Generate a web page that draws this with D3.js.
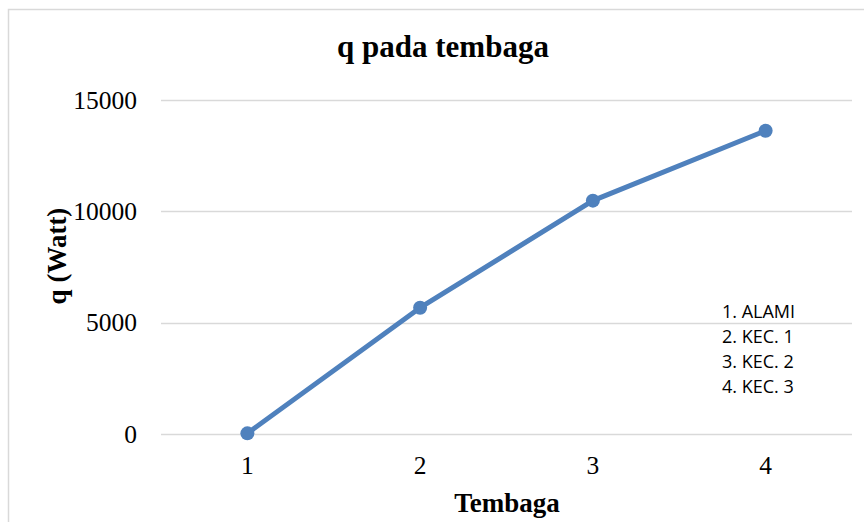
<!DOCTYPE html>
<html>
<head>
<meta charset="utf-8">
<script src="https://cdn.jsdelivr.net/npm/d3@7"></script>
<style>
  body { margin: 0; background: #fff; }
</style>
</head>
<body>
<div id="chart"></div>
<script>
/* CONSTANTS AND GLOBALS */
const width = 864,
  height = 522,
  margin = { top: 100, bottom: 88, left: 161, right: 12 };

// data
const categories = ["1", "2", "3", "4"];
const qValues = [30, 5670, 10480, 13620];
const yTicks = [0, 5000, 10000, 15000];
const legendLines = ["1. ALAMI", "2. KEC. 1", "3. KEC. 2", "4. KEC. 3"];

const data = categories.map((c, i) => ({ cat: c, q: qValues[i] }));

const serif = "'Liberation Serif', 'Times New Roman', serif";

const svg = d3.select("#chart")
  .append("svg")
  .attr("width", width)
  .attr("height", height);

// chart frame (only the left and top edges show)
svg.append("rect")
  .attr("x", 8.5)
  .attr("y", 9.5)
  .attr("width", 900)
  .attr("height", 600)
  .attr("fill", "white")
  .attr("stroke", "#d9d9d9")
  .attr("stroke-width", 1.5);

// + SCALES
const xScale = d3.scaleBand()
  .domain(categories)
  .range([margin.left, width - margin.right]);

const yScale = d3.scaleLinear()
  .domain([0, 15000])
  .range([height - margin.bottom, margin.top]);

// gridlines
svg.append("g")
  .selectAll("line")
  .data(yTicks)
  .join("line")
  .attr("x1", margin.left)
  .attr("x2", width - margin.right)
  .attr("y1", d => Math.round(yScale(d)) + 0.5)
  .attr("y2", d => Math.round(yScale(d)) + 0.5)
  .attr("stroke", "#d9d9d9")
  .attr("stroke-width", 1.5);

// + AXES
const yAxis = d3.axisLeft(yScale)
  .tickValues(yTicks)
  .tickFormat(d3.format("d"))
  .tickSize(0)
  .tickPadding(24);

const yAxisGroup = svg.append("g")
  .attr("transform", `translate(${margin.left}, 0)`)
  .call(yAxis);
yAxisGroup.select(".domain").remove();
yAxisGroup.selectAll("text")
  .attr("font-family", serif)
  .attr("font-size", 25.5)
  .attr("fill", "#000");

const xAxis = d3.axisBottom(xScale)
  .tickSize(0)
  .tickPadding(22);

const xAxisGroup = svg.append("g")
  .attr("transform", `translate(0, ${height - margin.bottom})`)
  .call(xAxis);
xAxisGroup.select(".domain").remove();
xAxisGroup.selectAll("text")
  .attr("font-family", serif)
  .attr("font-size", 25.5)
  .attr("fill", "#000");

// axis titles
svg.append("text")
  .attr("x", 507)
  .attr("y", 512)
  .attr("text-anchor", "middle")
  .attr("font-family", serif)
  .attr("font-weight", "bold")
  .attr("font-size", 27)
  .text("Tembaga");

svg.append("text")
  .attr("transform", `translate(${66}, ${256}) rotate(-90)`)
  .attr("text-anchor", "middle")
  .attr("font-family", serif)
  .attr("font-weight", "bold")
  .attr("font-size", 27)
  .text("q (Watt)");

// title
svg.append("text")
  .attr("x", 443)
  .attr("y", 57)
  .attr("text-anchor", "middle")
  .attr("font-family", serif)
  .attr("font-weight", "bold")
  .attr("font-size", 31)
  .text("q pada tembaga");

// + LINE
const cx = d => xScale(d.cat) + xScale.bandwidth() / 2;
const lineGen = d3.line()
  .x(cx)
  .y(d => yScale(d.q));

svg.append("path")
  .datum(data)
  .attr("fill", "none")
  .attr("stroke", "#4f81bd")
  .attr("stroke-width", 5)
  .attr("stroke-linejoin", "round")
  .attr("d", lineGen);

svg.selectAll(".dot")
  .data(data)
  .join("circle")
  .attr("class", "dot")
  .attr("cx", cx)
  .attr("cy", d => yScale(d.q))
  .attr("r", 7)
  .attr("fill", "#4f81bd");

// note text explaining the categories
svg.append("g")
  .selectAll("text")
  .data(legendLines)
  .join("text")
  .attr("x", 722)
  .attr("y", (d, i) => 318 + i * 25)
  .attr("font-family", "'Open Sans', 'Liberation Sans', sans-serif")
  .attr("font-size", 18)
  .attr("fill", "#000")
  .text(d => d);
</script>
</body>
</html>
